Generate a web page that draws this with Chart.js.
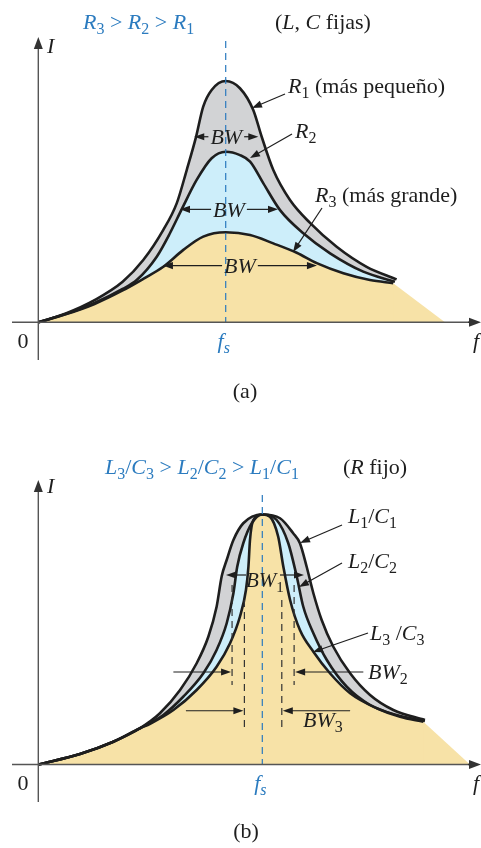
<!DOCTYPE html>
<html>
<head>
<meta charset="utf-8">
<script src="https://cdn.jsdelivr.net/npm/chart.js@4.4.1/dist/chart.umd.min.js"></script>
<style>
  html, body { margin: 0; padding: 0; background: #ffffff; }
  canvas { display: block; }
</style>
</head>
<body>
<canvas id="chartA" width="481" height="424"></canvas>
<canvas id="chartB" width="481" height="424"></canvas>
<script>
// ---------- (a) R varies, L and C fixed : x = f / fs, y = I / I(R1 peak) ----------
const r1F = [0, 0.15, 0.30, 0.45, 0.56, 0.667, 0.739, 0.792, 0.840, 0.880, 0.925, 1.0, 1.076, 1.147, 1.192, 1.254, 1.343, 1.450, 1.592, 1.752, 1.912];
const r1I = [0, 0.038, 0.092, 0.168, 0.258, 0.383, 0.494, 0.631, 0.763, 0.894, 0.963, 1.0, 0.970, 0.880, 0.769, 0.631, 0.507, 0.412, 0.313, 0.230, 0.178];
const r2F = [0, 0.15, 0.30, 0.45, 0.525, 0.632, 0.703, 0.765, 0.845, 0.925, 1.0, 1.076, 1.130, 1.201, 1.290, 1.414, 1.557, 1.734, 1.903];
const r2I = [0, 0.035, 0.080, 0.138, 0.175, 0.272, 0.370, 0.468, 0.590, 0.680, 0.707, 0.693, 0.666, 0.576, 0.465, 0.369, 0.286, 0.210, 0.168];
const r3F = [0, 0.15, 0.30, 0.45, 0.56, 0.667, 0.774, 0.880, 1.0, 1.130, 1.254, 1.379, 1.486, 1.628, 1.770, 1.894];
const r3I = [0, 0.034, 0.076, 0.132, 0.180, 0.230, 0.300, 0.355, 0.373, 0.362, 0.327, 0.288, 0.245, 0.203, 0.175, 0.162];
const tailEndA = 2.17;                       // shaded region runs down to the f axis here
// bandwidth markers for R1, R2, R3
const bwLoA = [0.832, 0.756, 0.665];
const bwHiA = [1.174, 1.279, 1.487];
const bwLevelA = [0.769, 0.468, 0.235];

// ---------- (b) L/C varies, R fixed ----------
const l1F = [0, 0.186, 0.335, 0.454, 0.543, 0.633, 0.707, 0.759, 0.796, 0.819, 0.841, 0.871, 0.915, 1.0, 1.079, 1.138, 1.168, 1.198, 1.228, 1.265, 1.317, 1.392, 1.481, 1.585, 1.726];
const l1I = [0, 0.042, 0.091, 0.145, 0.205, 0.298, 0.405, 0.511, 0.631, 0.754, 0.818, 0.898, 0.965, 1.0, 0.985, 0.925, 0.885, 0.791, 0.685, 0.578, 0.471, 0.365, 0.278, 0.218, 0.178];
const l2F = [0, 0.186, 0.335, 0.454, 0.558, 0.647, 0.737, 0.796, 0.841, 0.871, 0.888, 0.915, 0.953, 1.0, 1.064, 1.116, 1.154, 1.183, 1.228, 1.288, 1.377, 1.481, 1.600, 1.726];
const l2I = [0, 0.042, 0.091, 0.145, 0.198, 0.271, 0.365, 0.458, 0.565, 0.685, 0.791, 0.885, 0.965, 1.0, 0.978, 0.885, 0.751, 0.631, 0.525, 0.418, 0.311, 0.238, 0.198, 0.174];
const l3F = [0, 0.186, 0.335, 0.454, 0.499, 0.603, 0.707, 0.796, 0.856, 0.900, 0.927, 0.938, 0.945, 0.960, 1.0, 1.034, 1.071, 1.094, 1.124, 1.168, 1.228, 1.302, 1.392, 1.511, 1.615, 1.719];
const l3I = [0, 0.042, 0.091, 0.145, 0.163, 0.218, 0.298, 0.391, 0.485, 0.591, 0.698, 0.791, 0.898, 0.978, 1.0, 0.991, 0.911, 0.791, 0.658, 0.538, 0.451, 0.365, 0.285, 0.225, 0.191, 0.171];
const tailEndB = 1.927;
// bandwidth markers BW1, BW2, BW3
const bwLoB = [0.838, 0.865, 0.920];
const bwHiB = [1.186, 1.142, 1.087];
const bwLevelB = [0.758, 0.370, 0.215];
const bwTailLoB = [null, 0.603, 0.659];
const bwTailHiB = [null, 1.451, 1.392];
const bwDashTopB = [null, 0.718, 0.658];
const bwDashBotB = [null, 0.318, 0.138];

// ---------- styling ----------
const SERIF = '"Liberation Serif", "Times New Roman", serif';
const FS = 22;
const INK = '#1e1e1e';
const BLUE = '#2b7bbf';
const AXIS = '#555555';
const GRAY_FILL = '#d2d3d5';
const BLUE_FILL = '#cdeefa';
const YELLOW_FILL = '#f7e2a7';

function parse(markup) {
  return markup.split('|').map(seg => {
    const m = seg.match(/^(i|s|si):(.*)$/);
    if (!m) return { t: seg, i: false, s: false };
    return { t: m[2], i: m[1].includes('i'), s: m[1].startsWith('s') };
  });
}
function fontOf(p, size) { return (p.i ? 'italic ' : '') + (p.s ? Math.round(size * 0.72) : size) + 'px ' + SERIF; }
function rich(ctx, markup, x, y, color, align, size) {
  size = size || FS;
  const parts = parse(markup);
  let w = 0;
  parts.forEach(p => { ctx.font = fontOf(p, size); w += ctx.measureText(p.t).width; });
  let cx = align === 'center' ? x - w / 2 : align === 'right' ? x - w : x;
  ctx.save();
  ctx.fillStyle = color;
  ctx.textAlign = 'left';
  ctx.textBaseline = 'alphabetic';
  parts.forEach(p => {
    ctx.font = fontOf(p, size);
    ctx.fillText(p.t, cx, y + (p.s ? size * 0.24 : 0));
    cx += ctx.measureText(p.t).width;
  });
  ctx.restore();
  return w;
}
function arrow(ctx, x1, y1, x2, y2, color, len, half, lw) {
  len = len || 10; half = half || 3.6;
  const a = Math.atan2(y2 - y1, x2 - x1), c = Math.cos(a), s = Math.sin(a);
  ctx.save();
  ctx.strokeStyle = color; ctx.fillStyle = color; ctx.lineWidth = lw || 1.2; ctx.setLineDash([]);
  ctx.beginPath(); ctx.moveTo(x1, y1); ctx.lineTo(x2 - len * 0.7 * c, y2 - len * 0.7 * s); ctx.stroke();
  ctx.beginPath();
  ctx.moveTo(x2, y2);
  ctx.lineTo(x2 - len * c + half * s, y2 - len * s - half * c);
  ctx.lineTo(x2 - len * c - half * s, y2 - len * s + half * c);
  ctx.closePath(); ctx.fill();
  ctx.restore();
}
function vline(ctx, x, y1, y2, color, dash, lw) {
  ctx.save();
  ctx.strokeStyle = color; ctx.lineWidth = lw; ctx.setLineDash(dash);
  ctx.beginPath(); ctx.moveTo(x, y1); ctx.lineTo(x, y2); ctx.stroke();
  ctx.restore();
}
function axes(ctx, X, Y, yTop, yBottom) {
  const ox = X.getPixelForValue(0), oy = Y.getPixelForValue(0);
  ctx.save();
  ctx.strokeStyle = AXIS; ctx.lineWidth = 1.4;
  ctx.beginPath(); ctx.moveTo(12, oy); ctx.lineTo(470, oy); ctx.stroke();
  ctx.beginPath(); ctx.moveTo(ox, yBottom); ctx.lineTo(ox, yTop + 10); ctx.stroke();
  ctx.restore();
  arrow(ctx, 468, oy, 481, oy, '#333', 12, 4.5, 1.4);
  arrow(ctx, ox, yTop + 12, ox, yTop, '#333', 12, 4.5, 1.4);
}
function pts(xs, ys) { return xs.map((x, i) => ({ x: x, y: ys[i] })); }
function curve(xs, ys, extra) {
  return Object.assign({
    data: pts(xs, ys), borderColor: INK, borderWidth: 2.6, pointRadius: 0,
    cubicInterpolationMode: 'monotone', fill: false, backgroundColor: 'transparent'
  }, extra);
}
// straight run-out from the last point of the lowest curve down to the f axis;
// it starts a little inside the curve so the two shaded areas overlap without a seam
function tail(xs, ys, end) {
  const lx = xs[xs.length - 1], ly = ys[ys.length - 1];
  return curve([lx - 0.02, lx, end], [ly, ly, 0], {
    borderWidth: 0, borderColor: 'transparent', fill: 'origin', backgroundColor: YELLOW_FILL,
    cubicInterpolationMode: 'default', tension: 0
  });
}

function makeChart(id, datasets, xr, yr, draw) {
  return new Chart(document.getElementById(id), {
    type: 'line',
    data: { datasets: datasets },
    options: {
      responsive: false, animation: false, devicePixelRatio: 1,
      layout: { padding: 0 },
      scales: {
        x: { type: 'linear', min: xr[0], max: xr[1], display: false },
        y: { type: 'linear', min: yr[0], max: yr[1], display: false }
      },
      plugins: {
        legend: { display: false }, tooltip: { enabled: false },
        filler: { propagate: false, drawTime: 'beforeDatasetsDraw' }
      }
    },
    plugins: [{ id: 'notes', afterDatasetsDraw(chart) { draw(chart.ctx, chart.scales.x, chart.scales.y); } }]
  });
}

// ---------- chart (a) ----------
makeChart('chartA', [
  curve(r1F, r1I, { fill: '+1', backgroundColor: GRAY_FILL }),
  curve(r2F, r2I, { fill: '+1', backgroundColor: BLUE_FILL }),
  curve(r3F, r3I, { fill: 'origin', backgroundColor: YELLOW_FILL }),
  tail(r3F, r3I, tailEndA)
], [-0.2044, 2.3623], [-0.4215, 1.3357], (ctx, X, Y) => {
  const fsX = X.getPixelForValue(1), oy = Y.getPixelForValue(0);
  vline(ctx, fsX, 41, oy, BLUE, [7, 5], 1.2);
  axes(ctx, X, Y, 37, 360);
  // bandwidth arrows
  for (let k = 0; k < 3; k++) {
    const y = Y.getPixelForValue(bwLevelA[k]);
    const lo = X.getPixelForValue(bwLoA[k]), hi = X.getPixelForValue(bwHiA[k]);
    const mid = (lo + hi) / 2;
    const w = rich(ctx, 'i:BW', mid, y + 7.5, INK, 'center');
    arrow(ctx, mid - w / 2 - 2, y, lo, y, INK);
    arrow(ctx, mid + w / 2 + 2, y, hi, y, INK);
  }
  rich(ctx, 'i:R|s:3| > |i:R|s:2| > |i:R|s:1', 83, 29, BLUE, 'left');
  rich(ctx, '(|i:L|, |i:C| fijas)', 275, 29, INK, 'left');
  rich(ctx, 'i:I', 47, 53, INK, 'left');
  rich(ctx, 'i:R|s:1| (más pequeño)', 288, 93, INK, 'left');
  arrow(ctx, 285, 94, 252, 108, INK);
  rich(ctx, 'i:R|s:2', 295, 138, INK, 'left');
  arrow(ctx, 292, 134, 250, 158, INK);
  rich(ctx, 'i:R|s:3| (más grande)', 315, 202, INK, 'left');
  arrow(ctx, 322, 208, 293, 252, INK);
  rich(ctx, '0', 23, 348, INK, 'center');
  rich(ctx, 'i:f|si:s', fsX - 2, 348, BLUE, 'center');
  rich(ctx, 'i:f', 473, 348, INK, 'left');
  rich(ctx, '(a)', 245, 398, INK, 'center');
});

// ---------- chart (b) ----------
makeChart('chartB', [
  curve(l1F, l1I, { fill: '+1', backgroundColor: GRAY_FILL }),
  curve(l2F, l2I, { fill: '+1', backgroundColor: BLUE_FILL }),
  curve(l3F, l3I, { fill: 'origin', backgroundColor: YELLOW_FILL }),
  tail(l3F, l3I, tailEndB)
], [-0.171, 1.9763], [-0.334, 1.362], (ctx, X, Y) => {
  const fsX = X.getPixelForValue(1), oy = Y.getPixelForValue(0);
  vline(ctx, fsX, 71, oy, BLUE, [7, 5], 1.2);
  axes(ctx, X, Y, 56, 378);
  // BW1 : arrows pointing outwards to the L1/C1 curve
  {
    const y = Y.getPixelForValue(bwLevelB[0]);
    const lo = X.getPixelForValue(bwLoB[0]), hi = X.getPixelForValue(bwHiB[0]);
    arrow(ctx, lo + 20, y, lo, y, INK);
    arrow(ctx, hi - 24, y, hi, y, INK);
    rich(ctx, 'i:BW|s:1', lo + 20, y + 12, INK, 'left', 21);
  }
  // BW2, BW3 : dashed limits with inward arrows
  for (let k = 1; k < 3; k++) {
    const y = Y.getPixelForValue(bwLevelB[k]);
    const lo = X.getPixelForValue(bwLoB[k]), hi = X.getPixelForValue(bwHiB[k]);
    const top = Y.getPixelForValue(bwDashTopB[k]), bot = Y.getPixelForValue(bwDashBotB[k]);
    vline(ctx, lo, top, bot, '#333', [7, 5], 1.2);
    vline(ctx, hi, top, bot, '#333', [7, 5], 1.2);
    arrow(ctx, X.getPixelForValue(bwTailLoB[k]), y, lo - 1, y, INK);
    arrow(ctx, X.getPixelForValue(bwTailHiB[k]), y, hi + 1, y, INK);
  }
  rich(ctx, 'i:BW|s:2', 368, 255, INK, 'left');
  rich(ctx, 'i:BW|s:3', 303, 303, INK, 'left');
  rich(ctx, 'i:L|s:3|/|i:C|s:3| > |i:L|s:2|/|i:C|s:2| > |i:L|s:1|/|i:C|s:1', 105, 50, BLUE, 'left');
  rich(ctx, '(|i:R| fijo)', 343, 50, INK, 'left');
  rich(ctx, 'i:I', 47, 69, INK, 'left');
  rich(ctx, 'i:L|s:1|/|i:C|s:1', 348, 99, INK, 'left');
  arrow(ctx, 342, 101, 300, 119, INK);
  rich(ctx, 'i:L|s:2|/|i:C|s:2', 348, 144, INK, 'left');
  arrow(ctx, 342, 139, 299, 163, INK);
  rich(ctx, 'i:L|s:3| /|i:C|s:3', 370, 216, INK, 'left');
  arrow(ctx, 368, 209, 313, 228, INK);
  rich(ctx, '0', 23, 366, INK, 'center');
  rich(ctx, 'i:f|si:s', fsX - 2, 366, BLUE, 'center');
  rich(ctx, 'i:f', 473, 366, INK, 'left');
  rich(ctx, '(b)', 246, 414, INK, 'center');
});
</script>
</body>
</html>
